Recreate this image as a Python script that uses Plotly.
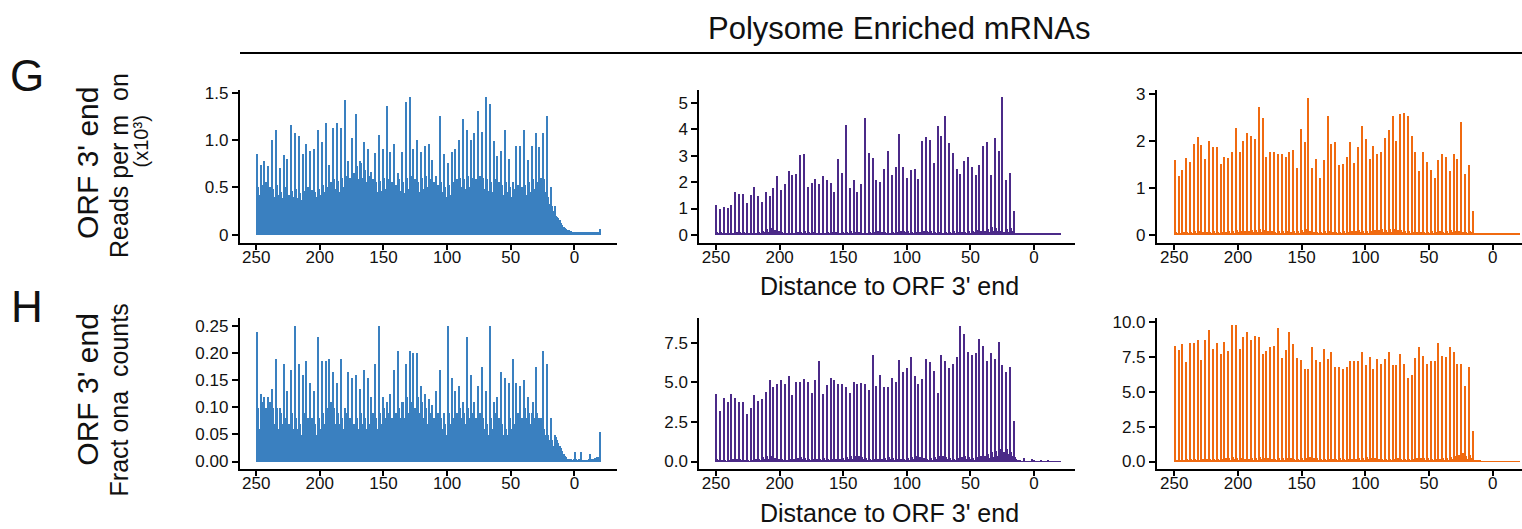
import plotly.graph_objects as go

# ---------------- data ----------------
positions = list(range(250, -21, -1))  # distance to ORF 3' end (nt)

# Row G (reads per million, x10^3) ------------------------------
g_blue_peak = [0.85,0.73,0.77,0.72,1.0,1.1,0.7,0.84,0.8,1.15,
               1.07,1.04,0.85,0.95,0.88,0.9,1.1,0.98,1.18,0.73,
               1.12,1.17,1.12,1.42,0.78,1.02,1.27,0.77,0.98,0.9,
               0.66,0.86,1.05,0.9,1.35,0.87,0.95,0.65,0.87,1.4,
               1.45,0.9,1.0,0.87,0.93,0.95,0.79,0.62,1.25,0.85,
               0.75,0.87,0.9,1.0,1.22,1.1,1.0,1.07,1.3,1.08,
               1.45,1.38,0.99,0.83,0.88,1.1,0.8,0.55,0.93,0.93,
               1.1,0.79,0.93,1.07,0.92,1.07,1.25,0.5,0.3]
g_blue_off1 = [0.50,0.52,0.55,0.50,0.48,0.52,0.45,0.50,0.42,0.46,
               0.48,0.44,0.46,0.50,0.47,0.45,0.48,0.52,0.50,0.55,
               0.58,0.56,0.60,0.62,0.60,0.65,0.72,0.75,0.68,0.62,
               0.58,0.55,0.56,0.60,0.58,0.55,0.52,0.58,0.55,0.60,
               0.62,0.58,0.55,0.60,0.62,0.58,0.55,0.52,0.55,0.50,
               0.52,0.55,0.58,0.60,0.58,0.62,0.60,0.58,0.62,0.60,
               0.58,0.55,0.58,0.55,0.52,0.55,0.50,0.48,0.52,0.50,
               0.52,0.55,0.58,0.55,0.60,0.58,0.40,0.30]
g_blue_off2 = [0.42,0.40,0.38,0.36,0.40,0.42,0.38,0.35,0.36,0.40,
               0.38,0.36,0.40,0.42,0.38,0.40,0.42,0.45,0.44,0.46,
               0.48,0.45,0.50,0.52,0.50,0.55,0.58,0.60,0.55,0.50,
               0.48,0.45,0.46,0.48,0.46,0.44,0.42,0.46,0.44,0.48,
               0.50,0.48,0.45,0.48,0.50,0.46,0.44,0.42,0.45,0.40,
               0.42,0.45,0.48,0.50,0.48,0.50,0.48,0.46,0.50,0.48,
               0.46,0.45,0.48,0.45,0.42,0.45,0.40,0.38,0.42,0.40,
               0.42,0.45,0.48,0.45,0.50,0.45,0.32,0.25]
g_blue_tail = [0.20,0.18,0.17,0.15,0.12,0.10,0.08,0.07,0.06,0.05,
               0.05,0.04,0.04,0.03,0.03,0.03,0.03,0.03,0.03,0.03,
               0.03,0.03,0.03,0.03,0.03,0.03,0.03,0.03,0.025,0.025,
               0.025,0.025,0.03,0.025,0.03,0.06]

g_purple_peak = [1.1,0.95,1.05,1.0,1.1,1.6,1.55,1.55,1.2,1.5,
                 1.8,1.45,1.25,1.6,1.45,1.75,2.2,1.7,1.9,2.4,
                 2.25,2.3,3.0,3.05,1.8,1.95,2.1,1.9,2.2,2.05,
                 1.95,1.6,2.85,2.35,4.15,1.75,2.05,1.6,1.9,4.4,
                 3.1,2.9,2.05,2.0,2.5,3.15,2.25,2.55,3.8,2.55,
                 2.15,2.45,2.5,2.1,3.55,3.7,3.6,2.7,4.1,3.75,
                 4.5,3.45,3.1,2.5,2.3,2.8,2.95,2.55,2.25,2.65,
                 3.35,3.5,2.25,3.65,3.15,5.2,2.05,2.35,0.9]
g_purple_off1 = [0.10,0.08,0.06,0.05,0.06,0.08,0.10,0.08,0.06,0.05,
                 0.06,0.10,0.15,0.20,0.25,0.18,0.12,0.08,0.06,0.05,
                 0.06,0.08,0.10,0.12,0.10,0.08,0.06,0.05,0.06,0.08,
                 0.10,0.08,0.06,0.08,0.10,0.12,0.10,0.08,0.07,0.06,
                 0.08,0.10,0.12,0.10,0.08,0.06,0.08,0.10,0.12,0.15,
                 0.12,0.10,0.08,0.10,0.12,0.15,0.12,0.10,0.08,0.07,
                 0.08,0.10,0.12,0.10,0.08,0.10,0.12,0.15,0.18,0.15,
                 0.12,0.20,0.30,0.25,0.15,0.10,0.20,0.25]
g_purple_off2 = [0.05,0.04,0.03,0.03,0.04,0.05,0.06,0.05,0.04,0.03,
                 0.04,0.06,0.08,0.10,0.12,0.10,0.07,0.05,0.04,0.03,
                 0.04,0.05,0.06,0.07,0.06,0.05,0.04,0.03,0.04,0.05,
                 0.06,0.05,0.04,0.05,0.06,0.07,0.06,0.05,0.04,0.04,
                 0.05,0.06,0.07,0.06,0.05,0.04,0.05,0.06,0.07,0.08,
                 0.07,0.06,0.05,0.06,0.07,0.08,0.07,0.06,0.05,0.04,
                 0.05,0.06,0.07,0.06,0.05,0.06,0.07,0.08,0.10,0.08,
                 0.07,0.10,0.15,0.12,0.08,0.06,0.10,0.12]
g_purple_tail = [0.05,0.03,0.02,0.02,0.02,0.02,0.02,0.02,0.02,0.02,
                 0.02,0.02,0.02,0.02,0.02,0.02,0.02,0.02,0.02,0.02,
                 0.02,0.02,0.02,0.02,0.02,0.02,0.02,0.02,0.02,0.02,
                 0.02,0.02,0.02,0.02,0.02,0.02]

g_orange_peak = [1.58,1.25,1.38,1.62,1.55,1.93,2.07,1.9,1.6,1.98,
                 1.85,1.85,1.5,1.65,1.62,1.75,2.27,1.75,1.98,2.15,
                 2.1,2.02,2.7,2.48,1.65,1.75,1.75,1.72,1.7,1.65,
                 1.75,1.8,1.42,2.25,1.97,2.9,1.42,1.6,1.2,1.58,
                 2.52,1.92,1.97,1.47,1.5,1.65,1.97,1.52,1.85,2.3,
                 2.02,1.6,1.87,1.7,1.75,2.05,2.22,2.52,1.98,2.55,
                 2.58,2.52,2.1,1.75,1.35,1.75,1.55,1.38,1.2,1.58,
                 1.72,1.65,1.35,1.72,1.6,2.38,1.28,1.48,0.5]
g_orange_off1 = [0.05,0.04,0.06,0.05,0.06,0.07,0.08,0.06,0.05,0.06,
                 0.07,0.06,0.05,0.06,0.07,0.08,0.10,0.08,0.07,0.08,
                 0.09,0.10,0.12,0.10,0.08,0.07,0.06,0.07,0.08,0.07,
                 0.06,0.07,0.08,0.10,0.12,0.08,0.06,0.05,0.06,0.08,
                 0.07,0.06,0.05,0.06,0.07,0.06,0.07,0.08,0.09,0.08,
                 0.07,0.08,0.09,0.10,0.12,0.10,0.11,0.12,0.10,0.09,
                 0.08,0.07,0.06,0.05,0.06,0.05,0.06,0.07,0.06,0.07,
                 0.06,0.08,0.10,0.08,0.07,0.06,0.05,0.08]
g_orange_off2 = [0.03,0.02,0.03,0.03,0.03,0.04,0.04,0.03,0.03,0.03,
                 0.04,0.03,0.03,0.03,0.04,0.04,0.05,0.04,0.04,0.04,
                 0.05,0.05,0.06,0.05,0.04,0.04,0.03,0.04,0.04,0.04,
                 0.03,0.04,0.04,0.05,0.06,0.04,0.03,0.03,0.03,0.04,
                 0.04,0.03,0.03,0.03,0.04,0.03,0.04,0.04,0.05,0.04,
                 0.04,0.04,0.05,0.05,0.06,0.05,0.06,0.06,0.05,0.05,
                 0.04,0.04,0.03,0.03,0.03,0.03,0.03,0.04,0.03,0.04,
                 0.03,0.04,0.05,0.04,0.04,0.03,0.03,0.05]
g_orange_tail = [0.03,0.02,0.02,0.02,0.02,0.02,0.02,0.02,0.02,0.02,
                 0.02,0.02,0.02,0.02,0.02,0.02,0.02,0.02,0.02,0.02,
                 0.02,0.02,0.02,0.02,0.02,0.02,0.02,0.02,0.02,0.02,
                 0.02,0.02,0.02,0.02,0.02,0.02]

# Row H (fractional counts) -------------------------------------
h_blue_peak = [0.24,0.125,0.12,0.12,0.135,0.19,0.1,0.18,0.13,0.17,
               0.25,0.18,0.16,0.185,0.145,0.13,0.23,0.185,0.185,0.19,
               0.165,0.145,0.19,0.1,0.165,0.155,0.16,0.135,0.17,0.155,
               0.12,0.18,0.25,0.12,0.11,0.125,0.17,0.205,0.11,0.18,
               0.205,0.2,0.2,0.14,0.125,0.115,0.105,0.13,0.17,0.09,
               0.25,0.155,0.13,0.14,0.11,0.23,0.16,0.11,0.14,0.175,
               0.13,0.25,0.11,0.12,0.165,0.155,0.145,0.19,0.145,0.14,
               0.15,0.12,0.09,0.175,0.08,0.205,0.18,0.08,0.05]
h_blue_off1 = [0.10,0.11,0.10,0.11,0.10,0.10,0.09,0.08,0.07,0.09,
               0.08,0.07,0.09,0.08,0.08,0.07,0.08,0.09,0.10,0.11,
               0.10,0.09,0.08,0.09,0.08,0.07,0.08,0.09,0.08,0.07,
               0.09,0.08,0.09,0.10,0.09,0.08,0.09,0.10,0.11,0.12,
               0.11,0.10,0.12,0.11,0.10,0.09,0.08,0.09,0.08,0.07,
               0.09,0.08,0.09,0.10,0.09,0.10,0.09,0.08,0.09,0.08,
               0.07,0.08,0.09,0.08,0.07,0.06,0.08,0.07,0.09,0.08,
               0.10,0.09,0.11,0.09,0.08,0.06,0.05,0.04]
h_blue_off2 = [0.06,0.08,0.07,0.08,0.07,0.06,0.07,0.06,0.05,0.06,
               0.06,0.05,0.07,0.06,0.06,0.05,0.06,0.07,0.08,0.08,
               0.07,0.07,0.06,0.07,0.06,0.05,0.06,0.07,0.06,0.05,
               0.07,0.06,0.07,0.08,0.07,0.06,0.07,0.08,0.08,0.09,
               0.08,0.08,0.09,0.08,0.07,0.07,0.06,0.07,0.06,0.05,
               0.07,0.06,0.07,0.08,0.07,0.08,0.07,0.06,0.07,0.06,
               0.05,0.06,0.07,0.06,0.05,0.05,0.06,0.05,0.07,0.06,
               0.08,0.07,0.08,0.07,0.06,0.05,0.04,0.03]
h_blue_tail = [0.045,0.04,0.035,0.03,0.025,0.02,0.015,0.01,0.008,0.006,
               0.005,0.006,0.005,0.004,0.005,0.018,0.005,0.004,0.005,0.004,
               0.018,0.004,0.003,0.004,0.003,0.004,0.006,0.015,0.005,0.004,
               0.005,0.007,0.008,0.006,0.008,0.055]

h_purple_peak = [4.3,3.2,4.05,3.75,4.3,4.05,3.75,3.75,3.05,3.4,
                 4.2,3.85,3.95,4.4,5.2,4.75,4.9,5.2,4.9,5.4,
                 4.25,5.05,5.05,5.25,5.05,4.35,5.15,6.35,4.3,4.85,
                 5.3,5.15,4.95,4.95,4.75,4.35,5.05,4.9,5.0,4.95,
                 4.55,6.75,4.8,5.5,4.75,4.7,5.3,5.05,6.45,5.7,
                 5.9,6.65,5.45,4.9,5.25,6.5,6.3,5.75,4.35,6.75,
                 6.35,5.95,6.2,6.65,8.6,8.1,6.95,6.75,6.9,7.75,
                 7.35,6.4,6.9,6.5,7.6,6.15,5.7,6.0,2.6]
h_purple_off1 = [0.15,0.12,0.10,0.12,0.15,0.18,0.15,0.12,0.10,0.12,
                 0.15,0.20,0.30,0.40,0.35,0.25,0.20,0.15,0.12,0.15,
                 0.20,0.25,0.30,0.25,0.20,0.18,0.15,0.20,0.25,0.20,
                 0.18,0.15,0.20,0.25,0.30,0.35,0.40,0.35,0.30,0.25,
                 0.20,0.18,0.15,0.20,0.25,0.30,0.25,0.20,0.18,0.20,
                 0.25,0.30,0.35,0.30,0.25,0.20,0.25,0.30,0.40,0.35,
                 0.30,0.25,0.20,0.25,0.30,0.35,0.30,0.25,0.30,0.35,
                 0.40,0.50,0.60,0.70,0.80,0.60,0.80,0.60]
h_purple_off2 = [0.08,0.06,0.05,0.06,0.08,0.10,0.08,0.06,0.05,0.06,
                 0.08,0.10,0.15,0.20,0.18,0.12,0.10,0.08,0.06,0.08,
                 0.10,0.12,0.15,0.12,0.10,0.09,0.08,0.10,0.12,0.10,
                 0.09,0.08,0.10,0.12,0.15,0.18,0.20,0.18,0.15,0.12,
                 0.10,0.09,0.08,0.10,0.12,0.15,0.12,0.10,0.09,0.10,
                 0.12,0.15,0.18,0.15,0.12,0.10,0.12,0.15,0.20,0.18,
                 0.15,0.12,0.10,0.12,0.15,0.18,0.15,0.12,0.15,0.18,
                 0.20,0.25,0.30,0.35,0.40,0.30,0.50,0.40]
h_purple_tail = [0.30,0.15,0.10,0.08,0.06,0.05,0.05,0.25,0.05,0.04,
                 0.04,0.05,0.04,0.15,0.04,0.10,0.04,0.03,0.04,0.03,
                 0.08,0.03,0.03,0.04,0.03,0.03,0.06,0.03,0.03,0.04,
                 0.03,0.03,0.04,0.03,0.03,0.03]

h_orange_peak = [8.3,8.0,8.4,7.1,8.5,8.5,8.7,7.3,8.7,9.4,
                 8.1,8.5,7.7,8.6,7.9,9.75,9.75,8.1,8.9,9.3,
                 8.7,9.0,8.95,7.7,7.95,8.2,8.3,9.55,7.4,8.0,
                 9.25,8.4,7.45,7.3,6.6,6.6,8.2,7.3,7.1,8.1,
                 7.35,7.85,6.75,6.8,6.65,6.75,7.2,7.2,7.2,7.85,
                 6.9,7.5,6.6,7.35,7.0,7.35,7.85,6.95,6.95,7.7,
                 7.0,6.0,6.2,7.4,8.2,7.55,7.0,7.2,7.2,8.5,
                 7.6,7.5,8.2,7.85,7.0,7.0,5.45,6.8,2.2]
h_orange_off1 = [0.15,0.12,0.15,0.18,0.20,0.18,0.15,0.18,0.20,0.22,
                 0.20,0.18,0.20,0.25,0.30,0.35,0.30,0.25,0.22,0.20,
                 0.25,0.30,0.35,0.30,0.25,0.22,0.20,0.25,0.30,0.28,
                 0.25,0.22,0.20,0.25,0.30,0.35,0.30,0.25,0.22,0.20,
                 0.18,0.20,0.22,0.25,0.22,0.20,0.18,0.20,0.25,0.30,
                 0.35,0.30,0.25,0.22,0.20,0.18,0.20,0.22,0.25,0.22,
                 0.20,0.18,0.20,0.25,0.30,0.28,0.25,0.22,0.20,0.22,
                 0.25,0.30,0.35,0.40,0.50,0.60,0.40,0.50]
h_orange_off2 = [0.08,0.06,0.08,0.09,0.10,0.09,0.08,0.09,0.10,0.11,
                 0.10,0.09,0.10,0.12,0.15,0.18,0.15,0.12,0.11,0.10,
                 0.12,0.15,0.18,0.15,0.12,0.11,0.10,0.12,0.15,0.14,
                 0.12,0.11,0.10,0.12,0.15,0.18,0.15,0.12,0.11,0.10,
                 0.09,0.10,0.11,0.12,0.11,0.10,0.09,0.10,0.12,0.15,
                 0.18,0.15,0.12,0.11,0.10,0.09,0.10,0.11,0.12,0.11,
                 0.10,0.09,0.10,0.12,0.15,0.14,0.12,0.11,0.10,0.11,
                 0.12,0.15,0.18,0.20,0.25,0.30,0.20,0.25]
h_orange_tail = [0.15,0.12,0.10,0.10,0.08,0.06,0.04,0.03,0.02,0.02,
                 0.02,0.02,0.02,0.02,0.02,0.02,0.02,0.02,0.02,0.02,
                 0.02,0.02,0.02,0.02,0.02,0.02,0.02,0.02,0.02,0.02,
                 0.02,0.02,0.02,0.02,0.02,0.02]

x_ticks = [250, 200, 150, 100, 50, 0]
y_ticks = {
    "g1": ([0, 0.5, 1.0, 1.5], ["0", "0.5", "1.0", "1.5"]),
    "g2": ([0, 1, 2, 3, 4, 5], ["0", "1", "2", "3", "4", "5"]),
    "g3": ([0, 1, 2, 3], ["0", "1", "2", "3"]),
    "h1": ([0, 0.05, 0.10, 0.15, 0.20, 0.25], ["0.00", "0.05", "0.10", "0.15", "0.20", "0.25"]),
    "h2": ([0, 2.5, 5.0, 7.5], ["0.0", "2.5", "5.0", "7.5"]),
    "h3": ([0, 2.5, 5.0, 7.5, 10.0], ["0.0", "2.5", "5.0", "7.5", "10.0"]),
}

BLUE = "#3a80c0"
PURPLE = "#4b2a88"
ORANGE = "#f06a10"


def assemble(peak, off1, off2, tail):
    vals = {}
    for k, v in enumerate(peak):
        vals[250 - 3 * k] = v
    for k, v in enumerate(off1):
        vals[249 - 3 * k] = v
    for k, v in enumerate(off2):
        vals[248 - 3 * k] = v
    for i, v in enumerate(tail):
        vals[15 - i] = v
    return [vals.get(p, 0) for p in positions]


W, H = 1522, 529


def fx(px):
    return px / W


def fy(py):
    return 1 - py / H


panels = [
    ("g1", (g_blue_peak, g_blue_off1, g_blue_off2, g_blue_tail), BLUE, (239.5, 617), (85, 240.7), [263.1, -33.5], [-0.087, 1.523]),
    ("g2", (g_purple_peak, g_purple_off1, g_purple_off2, g_purple_tail), PURPLE, (699, 1075), (85, 240.7), [263.4, -32.2], [-0.312, 5.476]),
    ("g3", (g_orange_peak, g_orange_off1, g_orange_off2, g_orange_tail), ORANGE, (1156.7, 1522), (85, 240.7), [263.8, -23.0], [-0.175, 3.069]),
    ("h1", (h_blue_peak, h_blue_off1, h_blue_off2, h_blue_tail), BLUE, (239.5, 617), (316.7, 470.7), [263.1, -33.5], [-0.0134, 0.265]),
    ("h2", (h_purple_peak, h_purple_off1, h_purple_off2, h_purple_tail), PURPLE, (699, 1075), (316.7, 470.7), [263.4, -32.2], [-0.459, 9.09]),
    ("h3", (h_orange_peak, h_orange_off1, h_orange_off2, h_orange_tail), ORANGE, (1156.7, 1522), (316.7, 470.7), [263.8, -23.0], [-0.519, 10.28]),
]

FONT = "Liberation Sans, Arial, Helvetica, sans-serif"
INK = "#111111"

fig = go.Figure()
layout = dict(
    width=W, height=H,
    margin=dict(l=0, r=0, t=0, b=0),
    paper_bgcolor="white", plot_bgcolor="white",
    showlegend=False, bargap=0,
    font=dict(family=FONT, color=INK, size=17),
)

for i, (key, data, color, xd, yd, xr, yr) in enumerate(panels):
    n = "" if i == 0 else str(i + 1)
    vals = assemble(*data)
    fig.add_trace(go.Bar(
        x=positions, y=vals, width=1,
        marker=dict(color=color, line=dict(width=0)),
        xaxis="x" + n, yaxis="y" + n,
    ))
    tv, tt = y_ticks[key]
    layout["xaxis" + n] = dict(
        domain=[fx(xd[0]), fx(xd[1])], range=xr, anchor="y" + n,
        showline=True, linecolor="black", linewidth=1.5,
        ticks="outside", ticklen=5, tickwidth=1.5, tickcolor="black",
        tickvals=x_ticks, ticktext=[str(t) for t in x_ticks],
        tickfont=dict(size=17, family=FONT, color=INK),
        showgrid=False, zeroline=False,
    )
    layout["yaxis" + n] = dict(
        domain=[fy(yd[1]), fy(yd[0])], range=yr, anchor="x" + n,
        showline=True, linecolor="black", linewidth=1.5,
        ticks="outside", ticklen=6, tickwidth=1.5, tickcolor="black",
        tickvals=tv, ticktext=tt,
        tickfont=dict(size=17, family=FONT, color=INK),
        showgrid=False, zeroline=False,
    )

fig.update_layout(**layout)

# pull the x tick labels a little closer to the axis line
try:
    fig.update_xaxes(ticklabelstandoff=-7)
except Exception:
    pass

annotations = [
    dict(text="Polysome Enriched mRNAs", x=fx(899), y=fy(22), font=dict(size=31)),
    dict(text="Distance to ORF 3' end", x=fx(889), y=fy(284), font=dict(size=25)),
    dict(text="Distance to ORF 3' end", x=fx(889), y=fy(516), font=dict(size=25)),
    dict(text="G", x=fx(27), y=fy(70), font=dict(size=44)),
    dict(text="H", x=fx(27), y=fy(305), font=dict(size=44)),
    dict(text="ORF 3' end", x=fx(88), y=fy(159), textangle=-90, font=dict(size=30)),
    dict(text="Reads per m  on", x=fx(119), y=fy(161), textangle=-90, font=dict(size=25)),
    dict(text="(x10³)", x=fx(141), y=fy(137), textangle=-90, font=dict(size=20)),
    dict(text="ORF 3' end", x=fx(88), y=fy(390), textangle=-90, font=dict(size=30)),
    dict(text="Fract ona  counts", x=fx(119), y=fy(400), textangle=-90, font=dict(size=25)),
]
for a in annotations:
    a.update(xref="paper", yref="paper", showarrow=False, xanchor="center", yanchor="middle")
    a["font"].update(family=FONT, color=INK)
fig.update_layout(annotations=annotations)

fig.add_shape(type="line", xref="paper", yref="paper",
              x0=fx(240), x1=1.0, y0=fy(47), y1=fy(47),
              line=dict(color="black", width=2))

fig.write_html("out.html")
